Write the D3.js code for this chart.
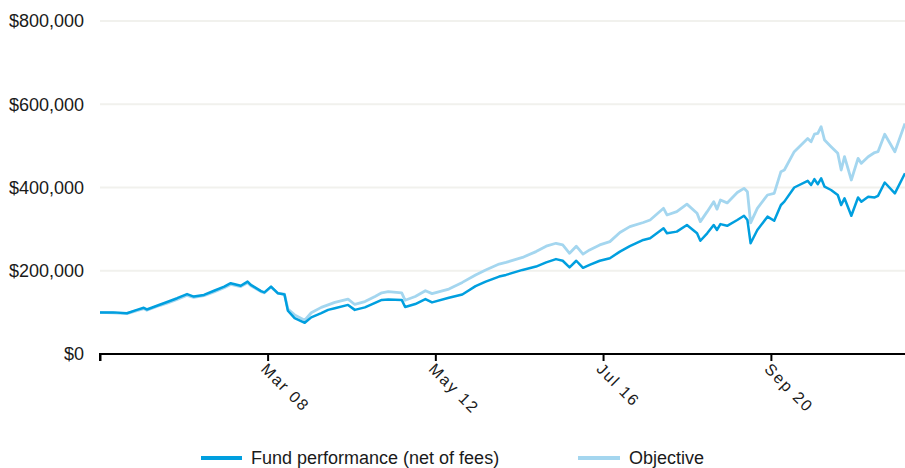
<!DOCTYPE html>
<html>
<head>
<meta charset="utf-8">
<script src="https://cdn.jsdelivr.net/npm/d3@7"></script>
<style>
  html, body { margin: 0; padding: 0; background: #fff; }
  svg { display: block; font-family: "Liberation Sans", Arial, sans-serif; }
</style>
</head>
<body>
<svg id="chart" width="905" height="468"></svg>
<script>
// ---- data (values in $ thousands) ----
const dates = [
  "2004-01","2004-05","2004-09","2004-12","2005-02","2005-03","2005-07","2005-09","2005-12",
  "2006-03","2006-05","2006-08","2006-11","2007-02","2007-04","2007-07","2007-09","2007-10",
  "2008-01","2008-02","2008-04","2008-06","2008-08","2008-09","2008-11","2009-02","2009-04",
  "2009-07","2009-09","2009-11","2010-03","2010-05","2010-08","2010-11","2011-01","2011-03",
  "2011-07","2011-08","2011-11","2012-02","2012-04","2012-09","2013-01","2013-05","2013-08",
  "2013-12","2014-02","2014-07","2014-11","2015-02","2015-05","2015-07","2015-09","2015-11",
  "2016-01","2016-03","2016-06","2016-09","2016-12","2017-03","2017-07","2017-09","2018-01",
  "2018-02","2018-05","2018-08","2018-11","2018-12","2019-02","2019-04","2019-05","2019-06",
  "2019-08","2019-11","2020-01","2020-02","2020-03","2020-05","2020-08","2020-10","2020-12",
  "2021-01","2021-04","2021-08","2021-09","2021-10","2021-11","2021-12","2022-01","2022-03",
  "2022-05","2022-06","2022-07","2022-09","2022-11","2022-12","2023-02","2023-04","2023-05",
  "2023-07","2023-10","2024-01"
];
const fund = [
  100,100,98,106,111,107,119,125,134,
  144,138,142,152,162,170,164,174,166,
  151,148,162,146,143,104,86,75,88,
  98,106,110,118,106,112,123,130,131,
  130,113,120,132,124,135,143,163,174,
  186,190,202,210,220,228,224,208,224,
  207,214,224,230,246,259,274,278,302,
  290,294,310,290,272,290,310,298,312,
  308,322,332,322,266,298,330,320,358,
  366,400,416,406,420,408,422,402,394,
  382,358,374,332,376,366,378,376,380,
  412,386,434
];
const objective = [
  100,99,97,104,109,105,117,122,131,
  141,136,140,149,159,167,162,171,164,
  150,147,161,146,144,108,94,81,99,
  112,118,124,132,119,126,138,147,150,
  147,129,138,152,145,156,172,190,202,
  216,220,232,246,259,266,262,242,259,
  240,250,262,270,292,306,316,322,350,
  334,342,360,338,318,342,366,348,370,
  363,388,398,390,315,350,382,386,438,
  442,486,518,510,528,530,546,514,498,
  482,442,474,418,470,458,474,484,486,
  528,486,554
];
const yTicks = [0, 200, 400, 600, 800];
const xTickDates = ["2004-01","2008-03","2012-05","2016-07","2020-09"];
const xTickLabels = ["", "Mar 08", "May 12", "Jul 16", "Sep 20"];
const seriesNames = ["Fund performance (net of fees)", "Objective"];
const colors = ["#009fdf", "#a4d6ef"];

// ---- chart ----
const parse = d3.timeParse("%Y-%m");
const svg = d3.select("#chart");
const margin = {left: 100, right: 0, top: 21, bottom: 114};
const W = 905, H = 468;

const x = d3.scaleTime()
  .domain([parse("2004-01"), parse("2024-01")])
  .range([margin.left, W - margin.right]);
const y = d3.scaleLinear()
  .domain([0, 800])
  .range([354, 21]);

// grid
svg.append("g").selectAll("line")
  .data(yTicks.filter(d => d > 0))
  .join("line")
  .attr("x1", margin.left).attr("x2", W)
  .attr("y1", d => y(d)).attr("y2", d => y(d))
  .attr("stroke", "#f1f1ed").attr("stroke-width", 2);

// y labels
const fmt = d => "$" + d3.format(",")(d * 1000);
svg.append("g").selectAll("text")
  .data(yTicks)
  .join("text")
  .attr("x", 84).attr("y", d => y(d))
  .attr("dy", "0.35em")
  .attr("text-anchor", "end")
  .attr("font-size", 18)
  .attr("fill", "#1a1a1a")
  .text(fmt);

// lines
const rows = dates.map((d, i) => ({date: parse(d), fund: fund[i], obj: objective[i]}));
const lineObj = d3.line().x(d => x(d.date)).y(d => y(d.obj)).curve(d3.curveLinear);
const lineFund = d3.line().x(d => x(d.date)).y(d => y(d.fund)).curve(d3.curveLinear);
svg.append("path").datum(rows)
  .attr("fill", "none").attr("stroke", colors[1]).attr("stroke-width", 2.8)
  .attr("stroke-linejoin", "round")
  .attr("d", lineObj);
svg.append("path").datum(rows)
  .attr("fill", "none").attr("stroke", colors[0]).attr("stroke-width", 2.5)
  .attr("stroke-linejoin", "round")
  .attr("d", lineFund);

// x axis
const xAxis = d3.axisBottom(x)
  .tickValues(xTickDates.map(parse))
  .tickSize(7)
  .tickFormat((d, i) => xTickLabels[i]);
const gx = svg.append("g")
  .attr("transform", "translate(0,354)")
  .call(xAxis);
gx.select(".domain").attr("stroke", "#000").attr("stroke-width", 2)
  .attr("d", `M${margin.left},7V0H${W}`);
gx.selectAll(".tick line").attr("stroke", "#000").attr("stroke-width", 2);
gx.selectAll(".tick text")
  .attr("font-family", "'Liberation Sans', Arial, sans-serif")
  .attr("font-size", 16)
  .attr("fill", "#1a1a1a")
  .attr("letter-spacing", 1.8)
  .attr("text-anchor", "start")
  .attr("y", 0).attr("dy", 0)
  .attr("transform", "translate(-8,16) rotate(45)");

// legend
const legend = svg.append("g");
const legendItems = [
  {x1: 201, x2: 242, tx: 251},
  {x1: 578, x2: 620, tx: 629}
];
legendItems.forEach((it, i) => {
  legend.append("line")
    .attr("x1", it.x1).attr("x2", it.x2)
    .attr("y1", 458).attr("y2", 458)
    .attr("stroke", colors[i]).attr("stroke-width", 4);
  legend.append("text")
    .attr("x", it.tx).attr("y", 458).attr("dy", "0.35em")
    .attr("font-size", 18).attr("fill", "#1a1a1a")
    .text(seriesNames[i]);
});
</script>
</body>
</html>
